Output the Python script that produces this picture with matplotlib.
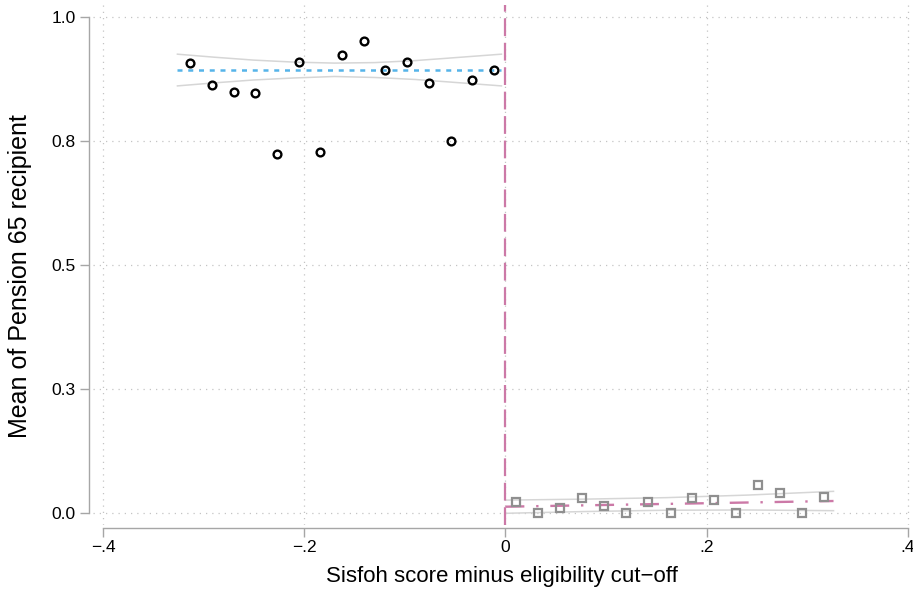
import matplotlib
matplotlib.use("Agg")
import matplotlib.pyplot as plt

# binned means left of the cut-off (circles)
left_x = [-0.3135, -0.292, -0.270, -0.2486, -0.227, -0.2052, -0.184, -0.1625,
          -0.1406, -0.1195, -0.0979, -0.076, -0.0545, -0.0333, -0.0117]
left_y = [0.907, 0.863, 0.849, 0.846, 0.724, 0.909, 0.728, 0.923,
          0.952, 0.894, 0.909, 0.866, 0.750, 0.873, 0.893]

# binned means right of the cut-off (squares)
right_x = [0.0104, 0.032, 0.0545, 0.0763, 0.098, 0.120, 0.142, 0.164,
           0.1856, 0.2075, 0.2294, 0.2512, 0.273, 0.295, 0.3168]
right_y = [0.022, 0.0, 0.010, 0.029, 0.0135, 0.0, 0.022, 0.0,
           0.029, 0.026, 0.0, 0.056, 0.039, 0.0, 0.032]

# linear fits and 95% CI bands
left_fit_x = [-0.326, -0.004]
left_fit_y = [0.893, 0.893]
left_ci_x = [-0.326, -0.29, -0.25, -0.21, -0.17, -0.13, -0.09, -0.05, -0.004]
left_ci_hi = [0.925, 0.919, 0.913, 0.909, 0.907, 0.908, 0.912, 0.918, 0.925]
left_ci_lo = [0.861, 0.867, 0.873, 0.877, 0.880, 0.878, 0.874, 0.868, 0.861]

right_fit_x = [0.0, 0.326]
right_fit_y = [0.0121, 0.0236]
right_ci_x = [0.0, 0.08, 0.16, 0.24, 0.326]
right_ci_hi = [0.0254, 0.0274, 0.0304, 0.0355, 0.0431]
right_ci_lo = [-0.0012, 0.0024, 0.0050, 0.0055, 0.0041]

x_ticks = [-0.4, -0.2, 0.0, 0.2, 0.4]
x_ticklabels = ["\u2212.4", "\u2212.2", "0", ".2", ".4"]
y_ticks = [0.0, 0.25, 0.5, 0.75, 1.0]
y_ticklabels = ["0.0", "0.3", "0.5", "0.8", "1.0"]

plt.rcParams["font.family"] = ["Liberation Sans", "DejaVu Sans"]

W, H = 913, 597
fig = plt.figure(figsize=(W / 100, H / 100), dpi=100)
ax = fig.add_axes([93 / W, 1 - 525 / H, (911 - 93) / W, (525 - 5) / H])
ax.set_xlim(-0.4099, 0.403)
ax.set_ylim(-0.0248, 1.0242)

axis_grey = "#a6a6a6"
ax.grid(True, color="#c4c4c4", linestyle=(0, (1, 4)), linewidth=0.9)
ax.set_axisbelow(True)

# CI bands
ax.plot(left_ci_x, left_ci_hi, color="#d6d6d6", lw=1.1, zorder=2)
ax.plot(left_ci_x, left_ci_lo, color="#d6d6d6", lw=1.1, zorder=2)
ax.plot(right_ci_x, right_ci_hi, color="#d6d6d6", lw=1.1, zorder=2)
ax.plot(right_ci_x, right_ci_lo, color="#d6d6d6", lw=1.1, zorder=2)

# fitted lines
ax.plot(left_fit_x, left_fit_y, color="#56b4e9", lw=1.8, linestyle=(0, (2.0, 2.3)), zorder=3)
ax.plot(right_fit_x, right_fit_y, color="#cc79a7", lw=1.7,
        linestyle=(0, (8, 5, 1, 5)), zorder=3)

# cut-off
ax.axvline(0, color="#cc79a7", lw=1.6, linestyle=(0, (8, 3)), zorder=3)

# binned scatter
ax.plot(left_x, left_y, "o", ms=5.6, mfc="none", mec="black", mew=1.7, zorder=4)
ax.plot(right_x, right_y, "s", ms=5.4, mfc="none", mec="#8f8f8f", mew=1.6, zorder=4)

for side in ("top", "right"):
    ax.spines[side].set_visible(False)
ax.spines["left"].set_position(("outward", 3.1))
ax.spines["left"].set_bounds(0, 1)
ax.spines["bottom"].set_position(("outward", 1.8))
ax.spines["bottom"].set_bounds(-0.4, 0.4)
for side in ("left", "bottom"):
    ax.spines[side].set_color(axis_grey)
    ax.spines[side].set_linewidth(1.0)

ax.set_xticks(x_ticks)
ax.set_xticklabels(x_ticklabels)
ax.set_yticks(y_ticks)
ax.set_yticklabels(y_ticklabels)
ax.tick_params(axis="both", colors=axis_grey, labelcolor="black", labelsize=12.5,
               length=6.2, width=1.0)
ax.tick_params(axis="y", pad=3)
ax.tick_params(axis="x", pad=3)

ax.set_xlabel("Sisfoh score minus eligibility cut\u2212off", fontsize=16, labelpad=8)
ax.set_ylabel("Mean of Pension 65 recipient", fontsize=18)
ax.yaxis.set_label_coords(-0.0746, 0.479)

fig.savefig("out.png", dpi=100)
